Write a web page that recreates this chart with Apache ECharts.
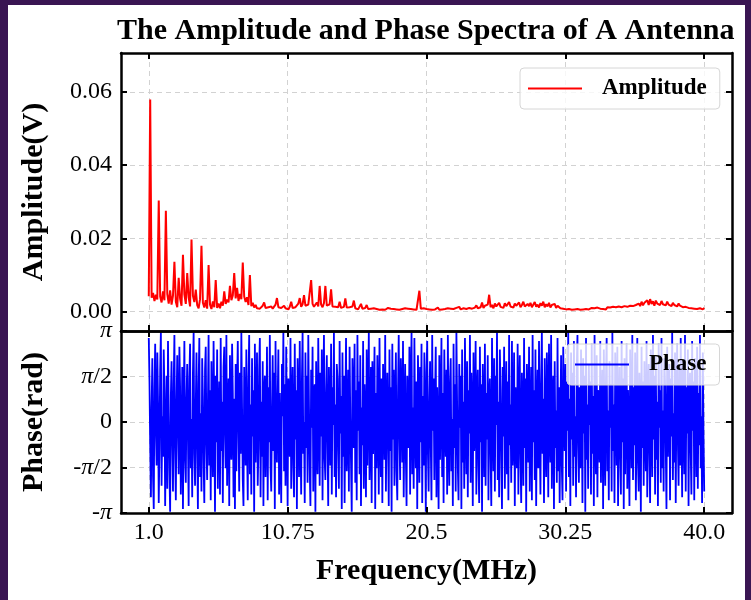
<!DOCTYPE html>
<html><head><meta charset="utf-8">
<script src="https://cdn.jsdelivr.net/npm/echarts@6/dist/echarts.min.js"></script>
<style>html,body{margin:0;padding:0;background:#fff}#c{width:751px;height:600px}</style>
</head><body><div id="c"></div>
<script>
// Frequency grids (MHz): first sample and spacing
const freqStart = 1.0;
const ampFreqStep = 0.1;
const phaseFreqStep = 0.05;

// Amplitude (V), one value per 0.1 MHz from 1.0 to 40.0 MHz
const amplitude = [
.0042,.0579,.0038,.0051,.0029,.0046,.0033,.0303,.0041,.0025,
.0055,.0031,.0275,.0048,.0022,.0058,.0019,.0044,.0136,.0027,
.0012,.0092,.0035,.0016,.0155,.0047,.0021,.0105,.0039,.0014,
.0197,.0043,.0026,.0060,.0018,.0009,.0034,.0180,.0024,.0011,
.0031,.0008,.0127,.0019,.0007,.0028,.0012,.0086,.0010,.0022,
.0009,.0027,.0016,.0055,.0021,.0033,.0025,.0070,.0031,.0044,
.0105,.0036,.0065,.0029,.0048,.0034,.0134,.0041,.0026,.0039,
.0018,.0100,.0015,.0024,.0011,.0018,.0009,.0013,.0008,.0012,
.0016,.0025,.0010,.0007,.0012,.0009,.0014,.0008,.0011,.0019,
.0037,.0012,.0008,.0010,.0007,.0016,.0009,.0011,.0006,.0013,
.0027,.0010,.0007,.0012,.0015,.0022,.0037,.0013,.0020,.0045,
.0016,.0011,.0019,.0024,.0086,.0021,.0013,.0018,.0025,.0014,
.0070,.0019,.0012,.0023,.0070,.0016,.0011,.0020,.0061,.0014,
.0009,.0013,.0008,.0012,.0027,.0010,.0007,.0013,.0036,.0011,
.0008,.0012,.0007,.0014,.0030,.0009,.0011,.0006,.0010,.0021,
.0008,.0006,.0010,.0018,.0007,.0006,.0008,.0005,.0009,.0006,
.0007,.0010,.0005,.0008,.0006,.0009,.0005,.0007,.0010,.0006,
.0008,.0005,.0007,.0009,.0006,.0008,.0005,.0010,.0007,.0006,
.0009,.0005,.0008,.0006,.0007,.0010,.0006,.0008,.0005,.0009,
.0057,.0008,.0006,.0009,.0005,.0007,.0010,.0006,.0008,.0005,
.0009,.0006,.0007,.0011,.0005,.0008,.0006,.0010,.0007,.0005,
.0009,.0006,.0008,.0011,.0007,.0005,.0010,.0008,.0013,.0006,
.0011,.0009,.0014,.0007,.0012,.0010,.0015,.0008,.0013,.0011,
.0017,.0009,.0014,.0012,.0025,.0010,.0016,.0013,.0019,.0046,
.0012,.0018,.0009,.0022,.0014,.0011,.0024,.0013,.0017,.0010,
.0023,.0015,.0012,.0026,.0014,.0019,.0011,.0022,.0016,.0013,
.0025,.0012,.0018,.0027,.0014,.0010,.0021,.0015,.0024,.0012,
.0017,.0026,.0013,.0019,.0011,.0023,.0016,.0027,.0012,.0020,
.0014,.0024,.0011,.0018,.0013,.0021,.0010,.0016,.0012,.0009,
.0013,.0008,.0011,.0006,.0009,.0007,.0010,.0005,.0008,.0006,
.0009,.0007,.0011,.0005,.0008,.0006,.0010,.0007,.0012,.0006,
.0008,.0010,.0005,.0009,.0007,.0011,.0006,.0008,.0013,.0007,
.0010,.0006,.0012,.0008,.0011,.0007,.0013,.0009,.0012,.0008,
.0014,.0010,.0012,.0009,.0015,.0011,.0013,.0010,.0016,.0012,
.0015,.0011,.0018,.0013,.0022,.0015,.0027,.0017,.0024,.0019,
.0031,.0018,.0034,.0021,.0028,.0016,.0030,.0022,.0026,.0018,
.0029,.0020,.0025,.0017,.0027,.0019,.0023,.0015,.0024,.0018,
.0021,.0014,.0022,.0016,.0019,.0012,.0017,.0013,.0015,.0010,
.0014,.0009,.0012,.0008,.0013,.0007,.0011,.0009,.0012,.0006,
.0010
];

// Phase (rad), one value per 0.05 MHz from 1.0 to 40.0 MHz
const phase = [
2.9,1.4,-0.8,-2.6,0.5,2.2,-1.9,-3.0,1.1,2.7,-0.3,-1.5,2.4,0.7,-2.8,-0.9,1.8,3.1,-2.2,0.2,
-1.2,2.5,1.0,-2.9,-0.4,1.6,-2.3,2.8,0.3,-1.7,-3.1,0.9,2.1,-0.6,-2.4,1.3,3.0,-1.0,-2.7,0.6,
2.3,-0.2,-1.8,2.6,1.2,-2.5,-0.7,1.9,-3.0,0.4,2.8,-1.3,-2.1,0.8,2.0,-0.5,-2.9,1.5,2.7,-1.6,
0.1,-2.6,1.7,3.1,-1.1,-2.2,0.6,2.4,-0.9,-3.0,1.3,2.9,-1.9,0.3,-2.4,2.2,0.9,-1.4,-2.8,1.8,
2.6,-0.8,-2.0,0.5,3.0,-1.5,1.1,-2.7,2.1,-0.1,-1.9,2.8,0.4,-3.1,1.6,-0.7,2.5,-2.3,0.0,1.4,
-2.5,2.9,-1.0,0.7,-2.8,1.9,2.6,-0.4,-1.6,3.0,-2.2,0.2,1.5,-2.9,2.3,-0.6,-1.3,2.7,1.0,-2.6,
0.8,-3.0,2.0,-1.7,1.2,2.8,-0.3,-2.4,1.7,-1.1,3.1,0.5,-2.0,-2.9,1.9,0.1,-1.5,2.5,-0.8,-2.7,
1.4,3.0,-1.8,0.6,-2.5,2.2,-0.5,1.1,-3.1,2.7,-1.4,0.3,2.4,-2.2,-0.9,1.8,2.9,-2.6,0.7,-1.2,
2.1,-2.9,0.9,1.6,-1.9,-0.2,2.6,-2.7,1.2,-0.7,3.0,-1.6,-2.4,0.4,2.3,-1.0,1.7,-3.0,2.8,-0.4,
-1.4,0.8,2.5,-2.5,1.0,-0.9,-2.8,2.0,0.2,3.1,-1.7,1.3,-2.2,2.6,-0.1,-2.9,1.5,0.6,-1.2,2.9,
-2.3,0.4,1.9,-1.5,-2.6,2.7,-0.6,1.1,-3.0,2.2,0.8,-1.9,2.8,-0.3,-2.5,1.4,3.1,-1.1,0.0,-2.8,
2.4,-0.9,1.6,-2.1,3.0,0.5,-1.6,-2.9,1.8,-0.2,2.6,-2.4,0.9,1.3,-3.1,2.1,-0.8,-1.8,2.9,0.3,
-2.2,1.7,-0.5,2.5,-2.7,0.7,3.0,-1.3,-2.0,1.0,2.3,-0.7,-2.9,1.9,0.2,-1.5,2.7,-2.5,1.2,-0.1,
3.1,-1.9,0.6,-2.6,2.0,1.5,-1.0,-2.3,2.8,-0.4,0.9,-3.0,2.4,-1.2,1.6,-2.8,0.4,2.9,-1.7,-0.6,
1.8,-2.4,2.6,0.1,-1.4,-3.1,2.2,0.8,-0.9,2.7,-2.1,1.1,-2.7,3.0,-0.3,1.4,-1.8,2.3,-2.9,0.5,
-0.8,2.8,-2.3,1.3,0.0,-2.6,2.5,-1.5,0.7,3.1,-2.0,-0.5,1.9,-2.8,2.1,-1.1,0.3,2.6,-3.0,1.0,
-1.6,2.3,0.6,-2.5,2.9,-0.2,-1.9,1.5,-2.8,2.0,0.9,-1.3,3.0,-2.4,0.2,1.7,-0.7,-2.9,2.5,-1.0,
1.2,-3.1,2.7,-0.6,1.8,-2.2,0.4,2.4,-1.7,-2.7,1.0,3.0,-0.4,-2.0,2.2,0.7,-1.4,2.8,-2.6,0.1,
2.0,-1.2,-2.9,1.6,0.3,-0.9,2.6,-2.5,1.1,3.1,-1.8,0.5,-2.3,2.9,-0.1,-1.6,1.4,-3.0,2.3,0.8,
-2.1,1.9,-0.7,2.7,-2.8,0.9,-1.5,2.4,0.0,-3.1,1.7,2.8,-1.1,-2.4,0.6,2.1,-0.8,-2.7,3.0,-0.3,
1.5,-2.0,0.8,2.6,-2.6,1.2,-0.5,-3.0,2.3,-1.3,0.4,2.9,-1.9,1.0,-2.8,2.5,0.2,-1.2,1.8,-2.5,
3.0,-0.6,-2.2,1.4,2.2,-1.7,0.1,-2.9,2.7,-0.9,1.3,-2.4,3.1,0.6,-1.6,-2.7,2.0,-0.2,1.6,-3.0,
2.5,-1.4,0.7,-2.3,2.9,0.3,-1.8,2.1,-2.6,1.1,-0.4,3.0,-2.1,1.7,0.5,-2.9,2.4,-1.0,-0.2,2.8,
-2.5,0.9,1.8,-1.5,-2.8,2.6,-0.7,1.3,-3.1,2.0,0.2,-1.9,2.7,-2.2,1.0,-0.6,2.3,-2.7,0.8,1.5,
-1.1,-2.9,2.9,0.4,-1.7,2.2,-2.4,1.6,-0.1,3.1,-2.0,0.7,-2.6,2.5,1.1,-1.3,-3.0,1.9,-0.5,2.6,
-2.3,0.1,2.1,-1.8,1.4,-2.7,3.0,-0.8,0.6,-2.1,2.8,-1.5,-0.3,2.4,-2.9,1.2,0.4,-1.6,2.7,-2.5,
0.9,2.3,-1.2,-2.8,1.7,0.0,-2.2,2.9,-0.9,1.5,-3.1,2.0,0.6,-1.4,2.6,-2.4,-0.2,1.9,-2.7,3.0,
-0.7,1.1,-2.0,2.5,-2.9,0.3,1.8,-1.6,2.8,-0.4,-2.5,1.3,3.1,-1.1,0.8,-2.8,2.2,-0.6,-1.9,2.4,
1.0,-2.6,2.7,-0.2,-1.4,3.0,-2.3,0.7,1.6,-3.0,2.1,-0.9,0.4,-2.1,2.9,-1.7,1.2,-2.8,0.1,2.3,
-1.5,-2.7,2.6,0.5,-1.0,2.0,-2.4,1.4,-0.3,3.1,-1.9,0.8,-2.9,2.4,-0.6,1.7,-2.2,2.8,-1.2,0.2,
-2.6,1.9,3.0,-0.8,-2.1,1.2,-1.6,2.5,0.3,-2.8,2.2,-0.4,1.6,-3.1,2.9,-1.3,0.6,-2.3,2.0,-0.1,
1.4,-2.5,2.7,-1.1,0.9,-2.9,3.0,-0.5,-1.8,2.3,-2.6,1.1,0.2,-1.4,2.8,-2.1,0.7,1.8,-3.0,2.5,
-0.6,-2.2,1.5,2.9,-1.7,0.4,-2.7,2.1,-0.2,1.3,-2.4,3.1,-1.0,0.6,-2.8,2.4,1.0,-1.5,2.6,-2.9,
0.3,1.9,-1.2,-2.5,2.8,-0.7,1.5,-3.0,2.2,-1.8,0.5,2.7,-2.3,1.1,-0.4,-2.9,2.5,0.8,-1.6,3.0,
-2.0,1.2,-0.8,2.4,-2.7,0.2,2.9,-1.4,-2.4,1.7,0.6,-3.1,2.6,-0.9,1.4,-2.2,2.1,-0.3,-1.7,2.8,
-2.6,0.9,2.0,-1.1,-2.8,2.5,0.1,-1.9,3.0,-0.6,1.6,-2.5,2.3,-1.3,0.7,-2.9,2.7,-0.2,1.1,-2.1,
2.9,-1.6,0.4,-2.4,2.2,1.3,-0.9,-3.0,2.6,-1.2,0.8,2.0,-2.7,1.5,-0.5,3.1,-2.0,0.3,-1.4,2.4,
-2.8,1.0,2.7,-0.7,-2.2,1.8,-1.5,2.9,-0.1,-2.6,2.1,0.5,-1.8,3.0,-2.4,1.2,-0.4,2.5,-2.9,0.9,
1.7,-1.0,-2.5,2.8,-0.3,1.4,-2.7,2.2,0.6,-1.9,2.6,-2.3,1.0,-0.8,3.0,-1.6,0.2,-2.8,2.4,-0.5,
-2.4
];

// Tick values and labels
const xTicks = [1.0, 10.75, 20.5, 30.25, 40.0];
const xTickLabels = ['1.0', '10.75', '20.5', '30.25', '40.0'];
const ampTicks = [0, 0.02, 0.04, 0.06];
const ampTickLabels = ['0.00', '0.02', '0.04', '0.06'];
const phaseTicks = [-Math.PI, -Math.PI / 2, 0, Math.PI / 2, Math.PI];
const phaseTickLabels = ['-{p|π}', '-{p|π}/2', '0', '{p|π}/2', '{p|π}'];

const FONT = '"Liberation Serif", "Times New Roman", serif';
const X_MIN = -0.95, X_MAX = 41.95;
const AMP_MIN = -0.0053, AMP_MAX = 0.0706;

function nearestLabel(ticks, labels, v) {
  let best = 0;
  for (let i = 1; i < ticks.length; i++) if (Math.abs(ticks[i] - v) < Math.abs(ticks[best] - v)) best = i;
  return labels[best];
}

const ampData = amplitude.map((v, i) => [freqStart + i * ampFreqStep, v]);
const phaseData = phase.map((v, i) => [freqStart + i * phaseFreqStep, v]);

const frameLine = { show: true, onZero: false, lineStyle: { color: '#000', width: 2.5 } };
const tickIn = vals => ({ show: true, inside: true, length: 6, lineStyle: { color: '#000', width: 2 }, customValues: vals });
const noLabel = vals => ({ show: false, customValues: vals });
const dashed = { show: true, lineStyle: { color: '#d2d2d2', width: 1, type: [5, 4] } };
const labelText = { fontFamily: FONT, fontSize: 24, color: '#000' };
const nameText = { fontFamily: FONT, fontSize: 30, fontWeight: 'bold', color: '#000' };

function frameX(grid, pos, extra) {
  return Object.assign({ type: 'value', gridIndex: grid, position: pos, min: X_MIN, max: X_MAX, z: 5,
    axisLine: frameLine, axisTick: tickIn(xTicks), axisLabel: noLabel(xTicks), splitLine: { show: false } }, extra || {});
}
function splitX(grid) {
  return { type: 'value', gridIndex: grid, position: 'bottom', min: X_MIN, max: X_MAX, z: 0,
    axisLine: { show: false }, axisTick: { show: false, customValues: xTicks }, axisLabel: noLabel(xTicks), splitLine: dashed };
}
function frameY(grid, pos, min, max, ticks, extra) {
  return Object.assign({ type: 'value', gridIndex: grid, position: pos, min: min, max: max, z: 5,
    axisLine: frameLine, axisTick: tickIn(ticks), axisLabel: noLabel(ticks), splitLine: { show: false } }, extra || {});
}
function splitY(grid, min, max, ticks) {
  return { type: 'value', gridIndex: grid, position: 'left', min: min, max: max, z: 0,
    axisLine: { show: false }, axisTick: { show: false, customValues: ticks }, axisLabel: noLabel(ticks), splitLine: dashed };
}

const legendBase = {
  padding: [9, 13, 9, 8], itemWidth: 54, itemHeight: 2, icon: 'rect',
  backgroundColor: 'rgba(255,255,255,0.8)', borderColor: '#d6d6d6', borderWidth: 1, borderRadius: 4,
  selectedMode: false,
  textStyle: { fontFamily: FONT, fontSize: 23, fontWeight: 'bold', color: '#000', padding: [0, 0, 0, 15] }
};

const chart = echarts.init(document.getElementById('c'), null, { renderer: 'canvas' });
chart.setOption({
  animation: false,
  backgroundColor: '#ffffff',
  title: {
    text: 'The Amplitude and Phase Spectra of A Antenna',
    left: 117, top: 16, padding: 0,
    textStyle: { fontFamily: FONT, fontSize: 30, fontWeight: 'bold', color: '#000' }
  },
  graphic: [
    { type: 'rect', left: 0, top: 0, shape: { width: 8, height: 600 }, style: { fill: '#3a1553' }, z: 100 },
    { type: 'rect', left: 0, top: 0, shape: { width: 751, height: 5 }, style: { fill: '#3a1553' }, z: 100 },
    { type: 'rect', left: 745, top: 0, shape: { width: 6, height: 600 }, style: { fill: '#3a1553' }, z: 100 }
  ],
  grid: [
    { left: 121, top: 53, width: 611, height: 278 },
    { left: 121, top: 331, width: 611, height: 182 }
  ],
  xAxis: [
    frameX(0, 'bottom'),
    frameX(0, 'top'),
    splitX(0),
    frameX(1, 'bottom', {
      axisLabel: { show: true, customValues: xTicks, margin: 8, ...labelText,
        formatter: v => nearestLabel(xTicks, xTickLabels, v) },
      name: 'Frequency(MHz)', nameLocation: 'middle', nameGap: 43, nameTextStyle: nameText
    }),
    frameX(1, 'top'),
    splitX(1)
  ],
  yAxis: [
    frameY(0, 'left', AMP_MIN, AMP_MAX, ampTicks, {
      axisLabel: { show: true, customValues: ampTicks, margin: 9, ...labelText,
        formatter: v => nearestLabel(ampTicks, ampTickLabels, v) },
      name: 'Amplitude(V)', nameLocation: 'middle', nameGap: 72, nameTextStyle: nameText
    }),
    frameY(0, 'right', AMP_MIN, AMP_MAX, ampTicks),
    splitY(0, AMP_MIN, AMP_MAX, ampTicks),
    frameY(1, 'left', -Math.PI, Math.PI, phaseTicks, {
      axisLabel: { show: true, customValues: phaseTicks, margin: 9, ...labelText,
        formatter: v => nearestLabel(phaseTicks, phaseTickLabels, v),
        rich: { p: { fontFamily: FONT, fontSize: 24, fontStyle: 'italic', color: '#000' } } },
      name: 'Phase(rad)', nameLocation: 'middle', nameGap: 72, nameTextStyle: nameText
    }),
    frameY(1, 'right', -Math.PI, Math.PI, phaseTicks),
    splitY(1, -Math.PI, Math.PI, phaseTicks)
  ],
  legend: [
    Object.assign({ data: ['Amplitude'], left: 520, top: 68 }, legendBase),
    Object.assign({ data: ['Phase'], left: 567, top: 344 }, legendBase)
  ],
  series: [
    { name: 'Amplitude', type: 'line', xAxisIndex: 0, yAxisIndex: 0, data: ampData,
      symbol: 'none', showSymbol: false, lineStyle: { color: '#ff0000', width: 2 }, itemStyle: { color: '#ff0000' } },
    { name: 'Phase', type: 'line', xAxisIndex: 3, yAxisIndex: 3, data: phaseData,
      symbol: 'none', showSymbol: false, lineStyle: { color: '#0000ff', width: 1.8 }, itemStyle: { color: '#0000ff' } }
  ]
});
</script></body></html>
